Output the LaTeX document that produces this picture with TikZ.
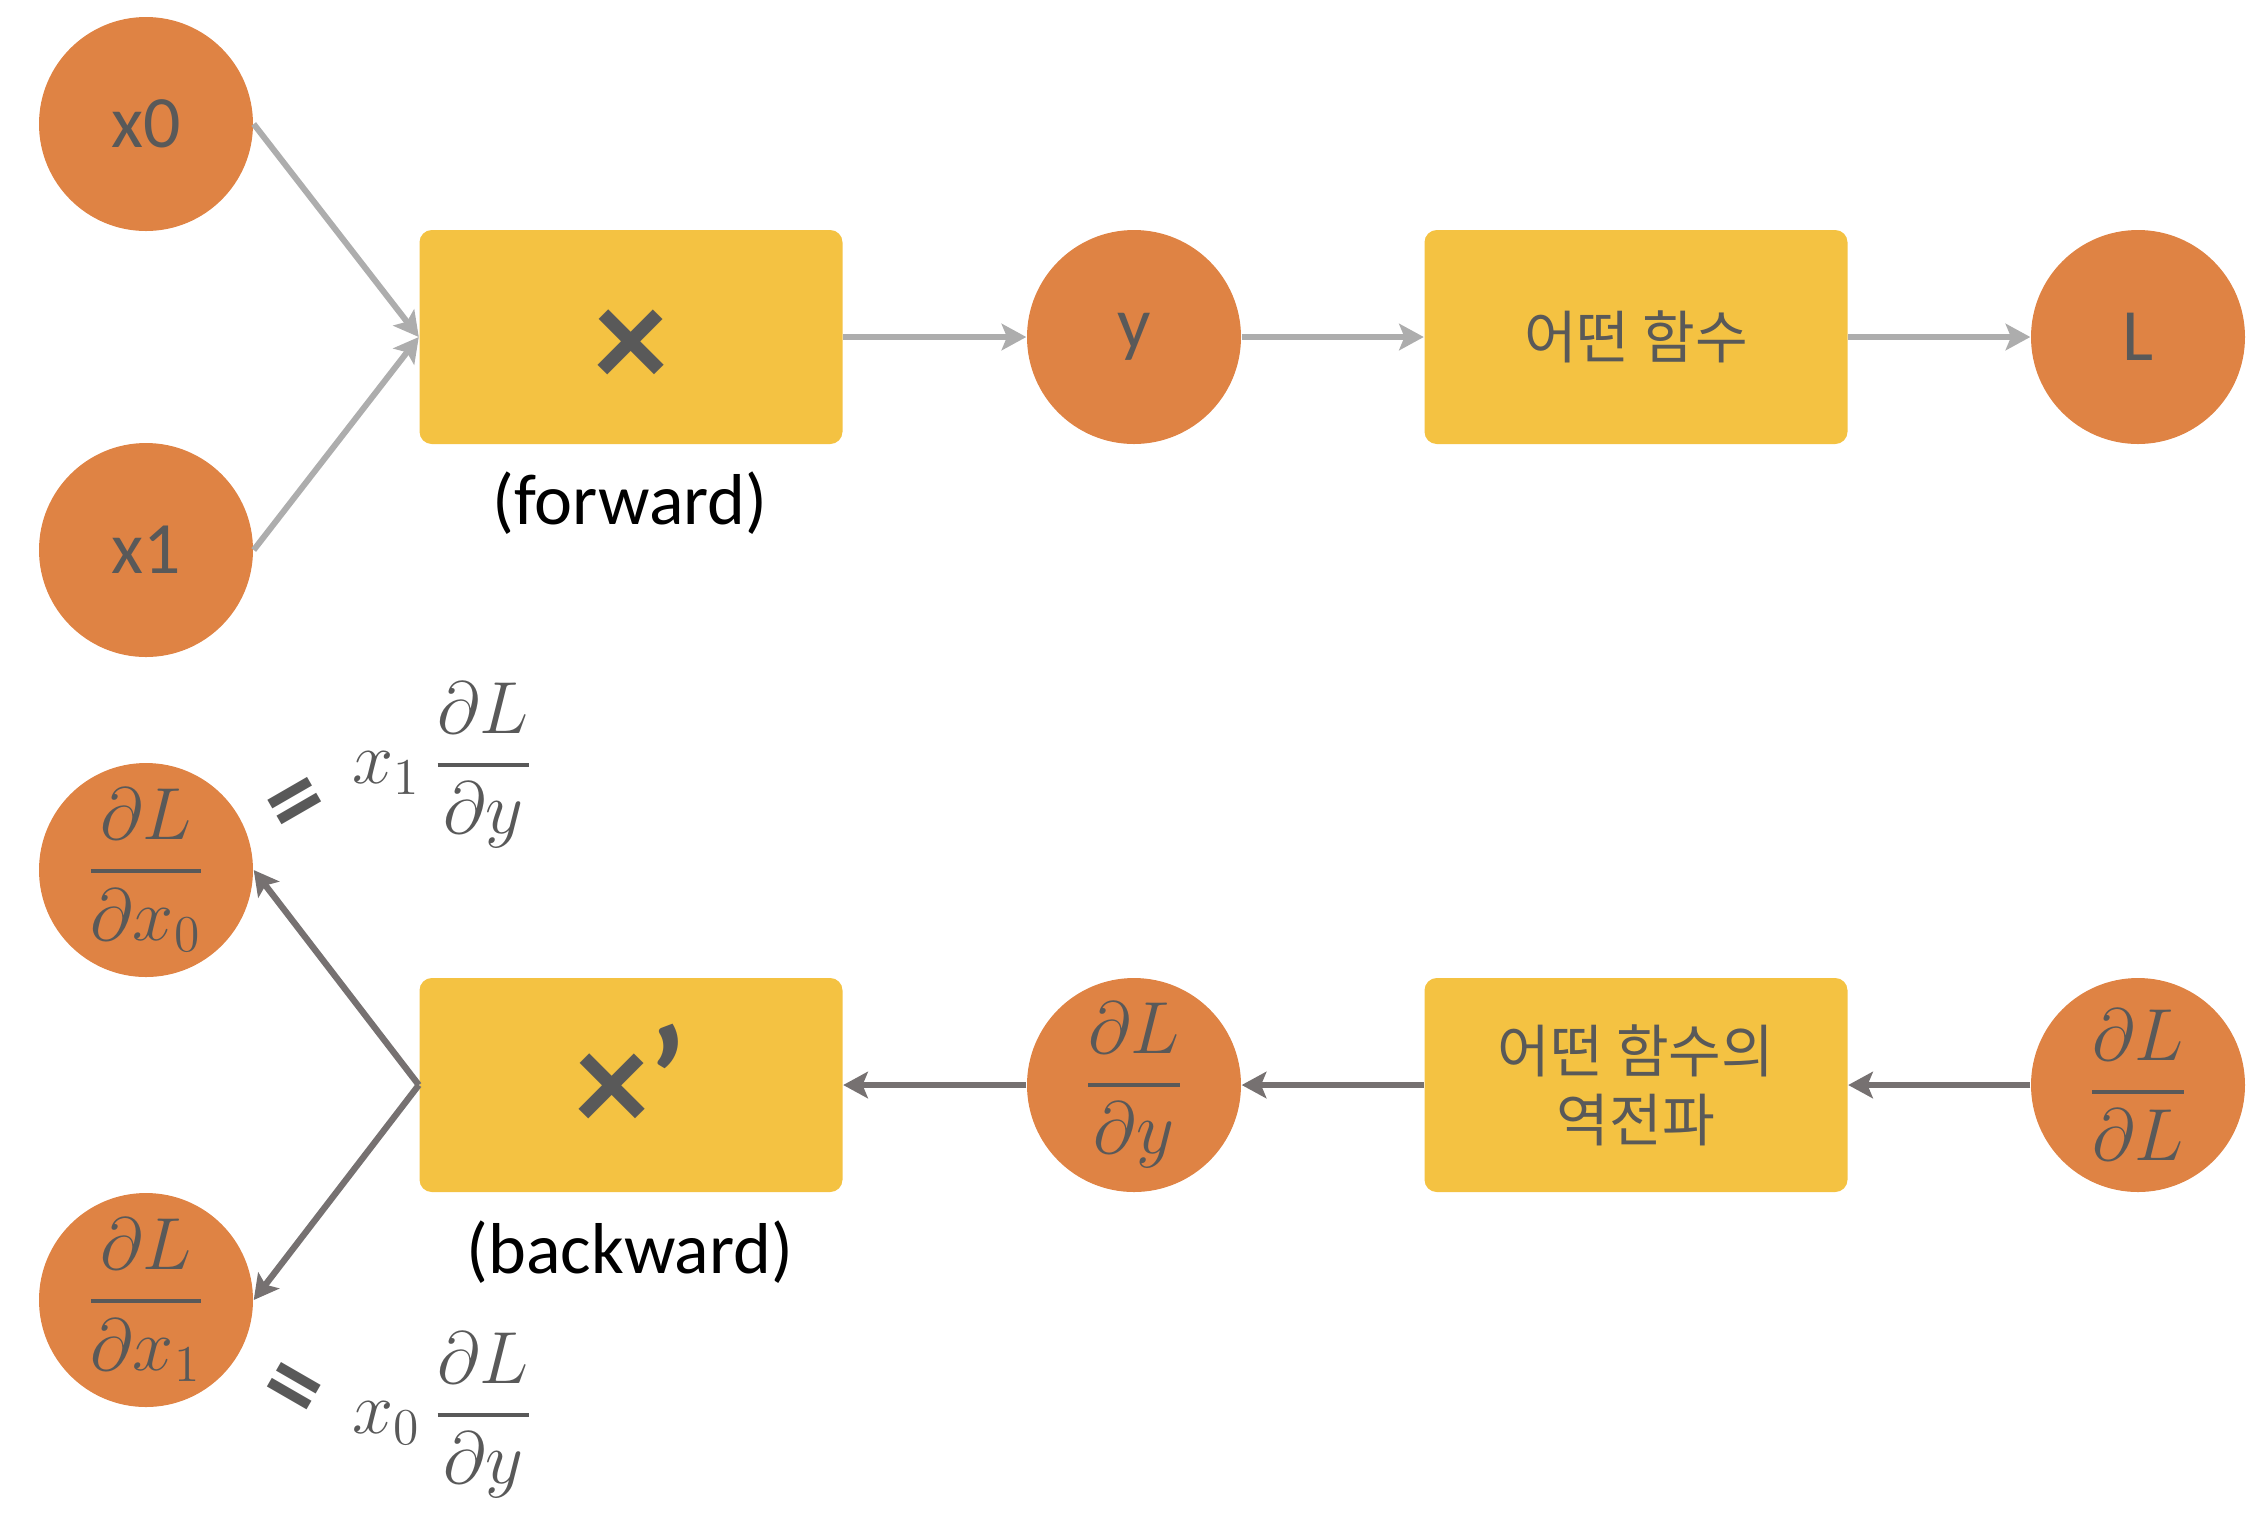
\documentclass[tikz,border=0pt]{standalone}
\usepackage{fix-cm}
\usepackage{amsmath}
\usepackage{fontspec}
\setmainfont{Carlito}
\newfontfamily\kor{Noto Sans CJK KR}
\usetikzlibrary{arrows.meta}

\begin{document}
\begin{tikzpicture}[
    var/.style={
        circle,
        fill=varO,
        minimum size=2.14cm,
        inner sep=0pt,
        text=txtG,
        font=\fontsize{21}{25}\selectfont
    },
    func/.style={
        rectangle,
        rounded corners=3.5pt,
        fill=funcY,
        minimum width=4.23cm,
        minimum height=2.14cm,
        inner sep=0pt,
        align=center,
        text=txtG,
        font=\kor\fontsize{16.3}{19.6}\selectfont
    },
    op/.style={func, font=\bfseries\fontsize{42}{42}\selectfont},
    note/.style={text=txtG, font=\fontsize{21}{25}\selectfont},
    eqsign/.style={text=txtG, font=\bfseries\fontsize{31}{31}\selectfont},
    fwd/.style={->, line width=1.7pt, draw=lineF, >={Stealth[length=7pt,width=7.5pt,inset=1.5pt]}},
    bwd/.style={->, line width=1.8pt, draw=lineB, >={Stealth[length=7pt,width=7.5pt,inset=1.5pt]}}
]

% 색 정의
\definecolor{varO}{RGB}{223,131,68}   % 변수 (주황)
\definecolor{funcY}{RGB}{244,194,66}  % 함수 (노랑)
\definecolor{txtG}{RGB}{89,89,89}
\definecolor{lineF}{RGB}{173,173,173} % forward 간선
\definecolor{lineB}{RGB}{118,113,113} % backward 간선

\useasboundingbox (0,0) rectangle (22.68,-15.20);

% 노드 (forward)
\node[var] (x0) at (1.46,-1.24) {x0};
\node[var] (x1) at (1.46,-5.50) {x1};

\node[op] (mul) at (6.31,-3.37) {\raisebox{-3.4pt}[\height][\depth]{×}};
\node[var] (y) at (11.34,-3.37) {y};
\node[func] (f) at (16.36,-3.37) {어떤 함수};
\node[var] (L) at (21.38,-3.37) {L};

\node[font=\fontsize{20.5}{24}\selectfont] (fwdlbl) at (6.30,-5.03) {(forward)};

% 노드 (backward)
\node[var] (gx0) at (1.46,-8.70) {$\genfrac{}{}{1.1pt}{0}{\partial L}{\partial x_0}$};
\node[var] (gx1) at (1.46,-13.00) {$\genfrac{}{}{1.1pt}{0}{\partial L}{\partial x_1}$};

\node[op] (mulb) at (6.31,-10.85) {\raisebox{-2.4pt}[\height][\depth]{×}\raisebox{-2pt}[0pt][0pt]{’}};
\node[var] (gy) at (11.34,-10.85) {$\genfrac{}{}{1.1pt}{0}{\partial L}{\partial y}$};
\node[func] (fb) at (16.36,-10.85) {어떤 함수의\\역전파};
\node[var] (gL) at (21.38,-10.85) {$\genfrac{}{}{1.1pt}{0}{\partial L}{\partial L}$};

\node[font=\fontsize{20.5}{24}\selectfont] (bwdlbl) at (6.30,-12.52) {(backward)};

% 식
\node[eqsign, rotate=30] (eq0) at (3.00,-8.10) {=};
\node[note] (rhs0) at (4.43,-7.65) {$x_1\,\genfrac{}{}{1.1pt}{0}{\partial L}{\partial y}$};
\node[eqsign, rotate=-30] (eq1) at (2.89,-13.95) {=};
\node[note] (rhs1) at (4.43,-14.15) {$x_0\,\genfrac{}{}{1.1pt}{0}{\partial L}{\partial y}$};

% 간선 (forward)
\draw[fwd] (x0.east) -- (mul.west);
\draw[fwd] (x1.east) -- (mul.west);
\draw[fwd] (mul) -- (y);
\draw[fwd] (y) -- (f);
\draw[fwd] (f) -- (L);

% 간선 (backward)
\draw[bwd] (gL) -- (fb);
\draw[bwd] (fb) -- (gy);
\draw[bwd] (gy) -- (mulb);
\draw[bwd] (mulb.west) -- (gx0.east);
\draw[bwd] (mulb.west) -- (gx1.east);

\end{tikzpicture}
\end{document}
